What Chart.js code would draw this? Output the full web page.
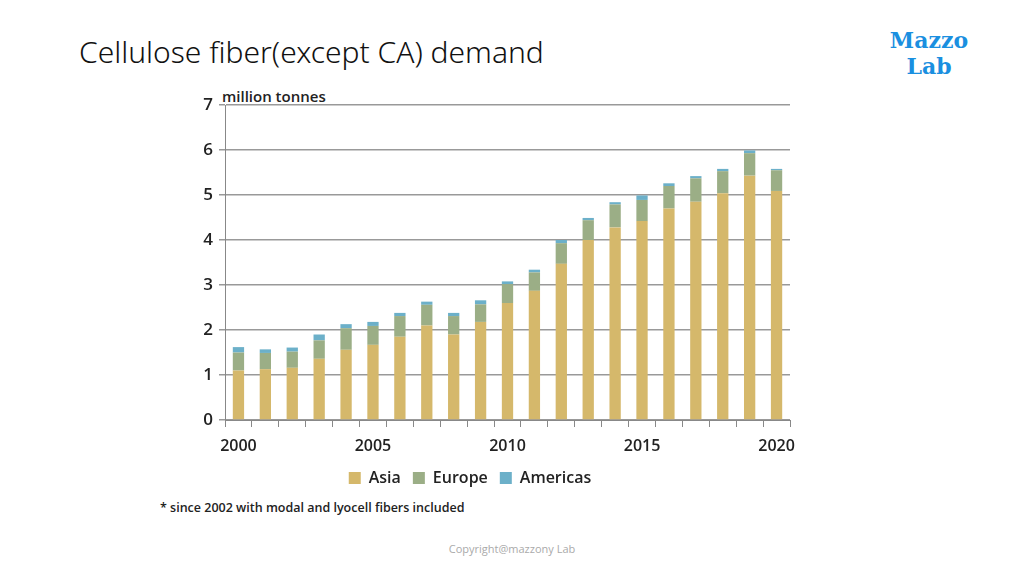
<!DOCTYPE html>
<html>
<head>
<meta charset="utf-8">
<script src="https://cdn.jsdelivr.net/npm/chart.js@4"></script>
<style>
  body { margin: 0; width: 1024px; height: 576px; background: #fff; position: relative; overflow: hidden; font-family: "Open Sans", sans-serif; }
  #title { position: absolute; left: 79px; top: 31px; font-size: 30px; color: #111; font-family: "Noto Sans", sans-serif; font-weight: 300; }
  #logo { position: absolute; left: 878px; top: 27px; width: 102px; text-align: center; font-family: "DejaVu Serif", serif; font-weight: bold; font-size: 22px; line-height: 26px; color: #1a8fe0; }
  #unit { position: absolute; left: 222px; top: 86px; font-size: 15px; font-weight: 600; color: #222; }
  #note { position: absolute; left: 160px; top: 499px; font-size: 12.5px; font-weight: 600; color: #222; }
  #copy { position: absolute; left: 0; width: 1024px; top: 541px; text-align: center; font-size: 11px; color: #aaa; }
  #wrap { position: absolute; left: 150px; top: 80px; width: 660px; height: 416px; }
</style>
</head>
<body>
<div id="title">Cellulose fiber(except CA) demand</div>
<div id="logo">Mazzo<br>Lab</div>
<div id="unit">million tonnes</div>
<div id="note">* since 2002 with modal and lyocell fibers included</div>
<div id="copy">Copyright@mazzony Lab</div>
<div id="wrap"><canvas id="chart"></canvas></div>
<script>
const years = ['2000','2001','2002','2003','2004','2005','2006','2007','2008','2009','2010',
               '2011','2012','2013','2014','2015','2016','2017','2018','2019','2020'];
const asia     = [1.10,1.13,1.16,1.36,1.56,1.67,1.85,2.10,1.90,2.18,2.60,2.87,3.47,4.00,4.28,4.42,4.70,4.85,5.04,5.43,5.09];
const europe   = [0.40,0.36,0.36,0.41,0.48,0.42,0.46,0.46,0.41,0.39,0.42,0.41,0.46,0.44,0.51,0.47,0.50,0.52,0.49,0.50,0.46];
const americas = [0.12,0.08,0.09,0.13,0.09,0.09,0.07,0.07,0.07,0.09,0.06,0.06,0.07,0.05,0.05,0.10,0.06,0.05,0.05,0.06,0.03];
const yTicks = [0,1,2,3,4,5,6,7];

const font = { family: '"Open Sans", sans-serif', size: 16, weight: '600' };

new Chart(document.getElementById('chart').getContext('2d'), {
    type: 'bar',
    data: {
        labels: years,
        datasets: [
            { label: 'Asia', data: asia, backgroundColor: '#d5b86b' },
            { label: 'Europe', data: europe, backgroundColor: '#9bae86' },
            { label: 'Americas', data: americas, backgroundColor: '#6cb0c9' }
        ]
    },
    options: {
        responsive: true,
        maintainAspectRatio: false,
        animation: false,
        layout: { padding: { top: 25, right: 20, bottom: 0, left: 0 } },
        datasets: { bar: { barPercentage: 0.42, categoryPercentage: 1 } },
        plugins: {
            tooltip: { enabled: false },
            legend: {
                position: 'bottom',
                labels: { color: '#222', font: font, boxWidth: 12, boxHeight: 12, padding: 12 }
            }
        },
        scales: {
            x: {
                stacked: true,
                afterFit: s => { s.height = 38; },
                grid: { display: true, drawOnChartArea: false, offset: true, tickLength: 7, color: '#888' },
                border: { color: '#888' },
                ticks: {
                    autoSkip: false, maxRotation: 0, color: '#222', font: font, padding: 10,
                    callback: function (v) { const y = years[v]; return (+y) % 5 === 0 ? y : ''; }
                }
            },
            y: {
                stacked: true,
                min: 0, max: 7,
                afterFit: s => { s.width = 75; },
                afterBuildTicks: s => { s.ticks = yTicks.map(v => ({ value: v })); },
                grid: { color: '#999', lineWidth: 1.5, tickLength: 6 },
                border: { color: '#888', display: true },
                ticks: { color: '#222', font: { ...font, size: 17 }, padding: 6 }
            }
        }
    }
});
</script>
</body>
</html>
